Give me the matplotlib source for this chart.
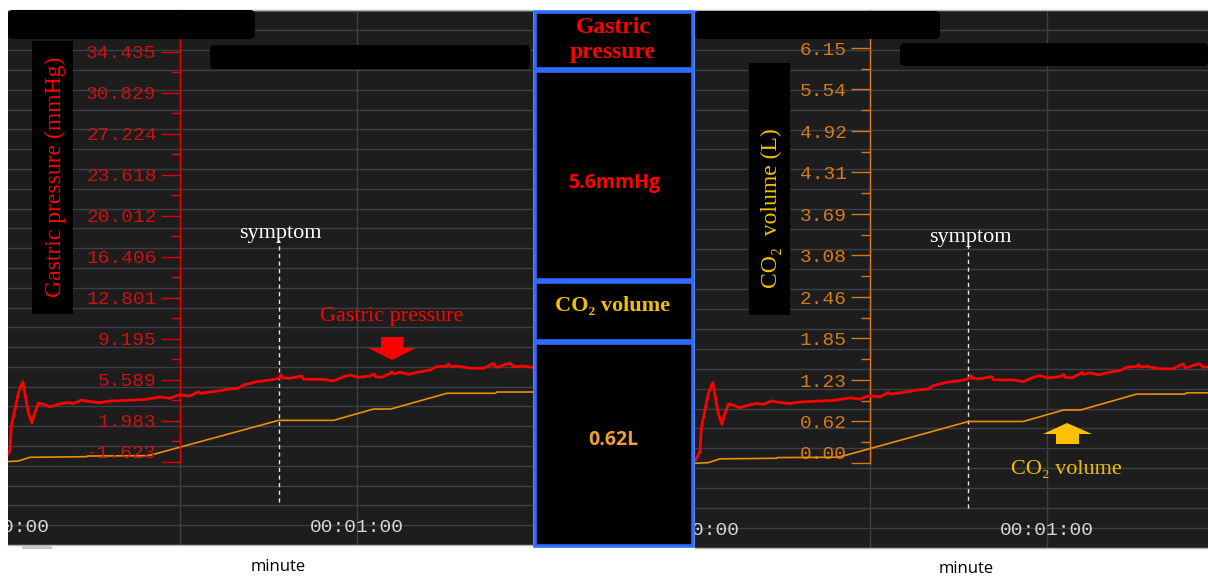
import matplotlib
matplotlib.use("Agg")
import matplotlib.pyplot as plt
import numpy as np
from matplotlib.patches import FancyBboxPatch, Polygon, Rectangle

# ===== values =====
# gastric pressure trace (seconds, mmHg)
pressure_t = [0.3, 1.2, 1.4, 2.0, 2.6, 3.0, 3.35, 3.7, 4.3, 4.9,
              5.4, 6.0, 7.0, 8.0, 9.5, 10.8, 12.0, 13.3, 14.8, 16.4,
              18.0, 20.0, 22.0, 24.0, 26.6, 28.3, 29.4, 30.0, 31.7, 33.1,
              33.4, 35.6, 38.2, 39.9, 40.7, 43.0, 45.3, 46.7, 47.1, 47.4,
              48.6, 50.6, 50.9, 52.0, 54.3, 56.0, 57.7, 58.8, 60.2, 62.2,
              62.8, 63.1, 64.2, 65.6, 65.9, 66.2, 67.3, 68.7, 70.7, 72.4,
              73.5, 75.2, 75.5, 75.8, 76.9, 79.2, 81.4, 83.1, 83.4, 83.7,
              84.8, 85.9, 86.5, 88.2, 89.6, 90.5]
pressure_mmHg = [-1.45, -0.6, 1.45, 2.9, 4.4, 5.0, 5.4, 4.4, 2.66, 1.78,
                 2.66, 3.54, 3.4, 3.2, 3.45, 3.57, 3.5, 3.8, 3.65, 3.57,
                 3.7, 3.75, 3.8, 3.85, 4.07, 3.95, 4.18, 4.24, 4.15, 4.53,
                 4.39, 4.53, 4.75, 4.83, 5.12, 5.41, 5.56, 5.71, 6.0, 5.75,
                 5.71, 5.91, 5.65, 5.62, 5.62, 5.47, 5.85, 6.0, 5.8, 5.91,
                 6.09, 5.85, 5.8, 6.15, 6.29, 6.1, 6.24, 6.06, 6.29, 6.44,
                 6.73, 6.79, 6.97, 6.75, 6.79, 6.59, 6.59, 7.03, 6.7, 6.68,
                 6.88, 7.03, 6.73, 6.79, 6.68, 6.7]

# CO2 volume trace (seconds, litres)
volume_t = [0.3, 2.6, 4.6, 14.2, 14.3, 24.4, 25.5, 46.7, 56.0, 62.8,
            65.7, 75.2, 83.4, 83.7, 90.5]
volume_L = [0.0, 0.01, 0.066, 0.075, 0.085, 0.09, 0.11, 0.62, 0.62, 0.79,
            0.79, 1.026, 1.026, 1.045, 1.045]

symptom_t = 46.7

pressure_ticks = [-1.623, 1.983, 5.589, 9.195, 12.801, 16.406, 20.012,
                  23.618, 27.224, 30.829, 34.435]
volume_ticks = [0.00, 0.62, 1.23, 1.85, 2.46, 3.08, 3.69, 4.31, 4.92, 5.54, 6.15]
volume_labels = ["0.00", "0.62", "1.23", "1.85", "2.46", "3.08", "3.69",
                 "4.31", "4.92", "5.54", "6.15"]
time_ticks = [0, 60]
time_labels = ["00:00:00", "00:01:00"]
grid_times = [30, 60]

current_pressure = "5.6mmHg"
current_volume = "0.62L"

# ===== style =====
BG = "#1d1d1d"
GRID = "#3f3f47"
FRAME = "#b4b4b4"
RED = "#ff0000"
RED_AX = "#e00000"
RED_TXT = "#cc1111"
ORANGE = "#f08c00"
ORANGE_AX = "#d87810"
ORANGE_TXT = "#d47a18"
GOLD = "#f0c000"
BLUE = "#2f6bff"
SERIF = ["Liberation Serif", "DejaVu Serif"]
MONO = "Liberation Mono"
SANS = ["Open Sans", "DejaVu Sans"]

W, H = 1208, 577
fig = plt.figure(figsize=(W / 100, H / 100), dpi=100)
fig.patch.set_facecolor("white")


def px_rect(x0, y0, x1, y1):
    return [x0 / W, 1 - y1 / H, (x1 - x0) / W, (y1 - y0) / H]


# pressure <-> volume share the same grid: 3.606 mmHg per 0.615 L, -1.623 <-> 0
P_PER_L = (pressure_ticks[-1] - pressure_ticks[0]) / (volume_ticks[-1] - volume_ticks[0])
half = (pressure_ticks[1] - pressure_ticks[0]) / 2
grid_levels = pressure_ticks[0] + half * np.arange(-5, 23)


def to_vol(p):
    return (p - pressure_ticks[0]) / P_PER_L


def panel(box, tlim, plim, scale, lab_frac, sym_span, sym_frac):
    ax = fig.add_axes(px_rect(*box))
    ax.set_facecolor(BG)
    ax.set_xlim(*tlim)
    ax.set_ylim(*plim)
    ax.set_yticks(grid_levels)
    ax.set_xticks(grid_times)
    ax.tick_params(length=0, labelleft=False, labelbottom=False)
    ax.grid(True, color=GRID, lw=1.0)
    for s in ("left", "right"):
        ax.spines[s].set_visible(False)
    for s in ("top", "bottom"):
        ax.spines[s].set_color(FRAME)
        ax.spines[s].set_linewidth(1.0)

    axv = ax.twinx()
    axv.set_ylim(to_vol(plim[0]), to_vol(plim[1]))
    axp = ax.twinx()
    axp.set_ylim(*plim)
    for a in (axv, axp):
        for s in a.spines.values():
            s.set_visible(False)
        a.tick_params(axis="y", which="both", right=False, labelright=False,
                      left=False, labelleft=False)

    axv.plot(volume_t, volume_L, color=ORANGE, lw=1.2)
    axp.plot(pressure_t, pressure_mmHg, color=RED, lw=2.0)

    # value scale drawn inside the plot at 00:00:30
    if scale == "pressure":
        a, ticks, labels, c_ax, c_txt = axp, pressure_ticks, [f"{v:.3f}" for v in pressure_ticks], RED_AX, RED_TXT
        mids = list(np.array(pressure_ticks) + half)
    else:
        a, ticks, labels, c_ax, c_txt = axv, volume_ticks, volume_labels, ORANGE_AX, ORANGE_TXT
        mids = list(np.array(volume_ticks) + (volume_ticks[1] - volume_ticks[0]) / 2)
    sp = a.spines["left"]
    sp.set_visible(True)
    sp.set_position(("data", grid_times[0]))
    sp.set_color(c_ax)
    sp.set_linewidth(1.0)
    sp.set_bounds(ticks[0], a.get_ylim()[1])
    a.yaxis.set_ticks_position("left")
    a.set_yticks(ticks, labels)
    a.set_yticks(mids, minor=True)
    a.tick_params(axis="y", which="major", left=True, labelleft=True, length=14,
                  width=1.0, color=c_ax, labelcolor=c_txt, labelsize=14, pad=2.8,
                  labelfontfamily=MONO)
    a.tick_params(axis="y", which="minor", left=True, length=6.5, width=1.0, color=c_ax)
    a.get_yticklabels()[0].set_va("bottom")

    # time labels inside the plot, clipped at the panel edge (as in the screenshot)
    xt = ax.get_xaxis_transform()
    for t, lab in zip(time_ticks, time_labels):
        ax.text(t, lab_frac, lab, transform=xt, ha="center", va="center",
                color="#d6d6d6", fontsize=14, family=MONO, clip_on=True)

    ax.axvline(symptom_t, ymin=sym_span[0], ymax=sym_span[1], color="#e6e6e6",
               lw=1.0, ls=(0, (3, 2.5)))
    ax.text(symptom_t + 0.3, sym_frac, "symptom", transform=xt, ha="center",
            va="center", color="white", fontsize=16, family=SERIF)
    return ax


# left panel: pressure scale
panel((8, 10, 533, 545), (0.85, 89.8), (-8.95, 38.10), "pressure",
      0.032, (0.08, 0.57), 0.583)
# right panel: volume scale
panel((695, 10, 1208, 548), (0.34, 87.3), (-8.98, 37.76), "volume",
      0.033, (0.074, 0.563), 0.578)

# ===== overlay in pixel coordinates =====
ov = fig.add_axes([0, 0, 1, 1])
ov.set_xlim(0, W)
ov.set_ylim(H, 0)
ov.axis("off")
ov.set_zorder(10)

# redaction bars
for (x, y, w, h) in [(8, 10, 247, 29), (210, 45, 320, 24), (695, 11, 245, 28), (900, 43, 308, 23)]:
    ov.add_patch(FancyBboxPatch((x, y), w, h, boxstyle="round,pad=0,rounding_size=5",
                                fc="black", ec="none"))

# axis titles
ov.add_patch(Rectangle((32, 41), 41, 273, fc="black", ec="none"))
ov.text(55, 177, "Gastric pressure (mmHg)", rotation=90, ha="center", va="center",
        color=RED, fontsize=17, family=SERIF)
ov.add_patch(Rectangle((749, 63), 41, 252, fc="black", ec="none"))
ov.text(771, 208, "CO₂  volume (L)", rotation=90, ha="center", va="center",
        color=GOLD, fontsize=17, family=SERIF)

# callouts
ov.text(392, 317, "Gastric pressure", ha="center", va="center", color=RED,
        fontsize=16, family=SERIF)
ov.add_patch(Polygon([(381, 337), (403, 337), (403, 348), (416, 348), (392, 360),
                      (368, 348), (381, 348)], closed=True, fc=RED, ec="none"))
ov.text(1066, 470, "CO₂ volume", ha="center", va="center", color=GOLD,
        fontsize=16, family=SERIF)
ov.add_patch(Polygon([(1067, 423), (1092, 434), (1079, 434), (1079, 444),
                      (1056, 444), (1056, 434), (1043, 434)], closed=True,
                     fc="#ffc000", ec="none"))

# centre readout box
for (y0, y1) in [(12, 69), (71, 280), (282, 341), (343, 546)]:
    ov.add_patch(Rectangle((534.5, y0), 158, y1 - y0, fc="black", ec=BLUE, lw=2.6))
ov.text(613, 40, "Gastric\npressure", ha="center", va="center", color=RED,
        fontsize=17, family=SERIF, fontweight="bold", linespacing=1.2)
ov.text(614, 183, current_pressure, ha="center", va="center", color=RED,
        fontsize=14, family=SANS, fontweight="bold")
ov.text(613, 306, "CO₂ volume", ha="center", va="center", color=GOLD,
        fontsize=16, family=SERIF, fontweight="bold")
ov.text(613, 440, current_volume, ha="center", va="center", color="#f0a030",
        fontsize=14, family=SANS, fontweight="bold")

# scroll thumb + axis captions
ov.add_patch(Rectangle((22, 546), 30, 3, fc="#c8c8c8", ec="none"))
ov.text(278, 567, "minute", ha="center", va="center", color="black",
        fontsize=12, family=SANS)
ov.text(966, 569, "minute", ha="center", va="center", color="black",
        fontsize=12, family=SANS)

fig.savefig("out.png", dpi=100, facecolor="white")
